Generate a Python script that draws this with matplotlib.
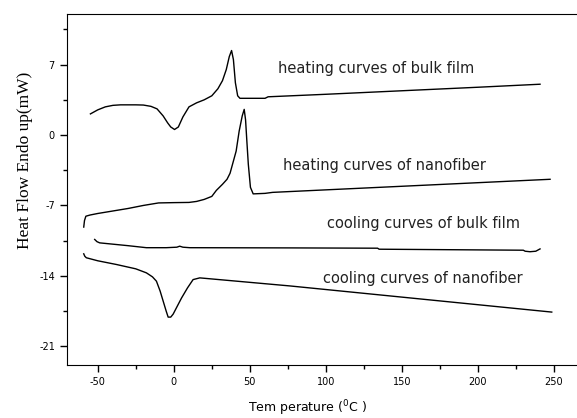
import matplotlib
matplotlib.use('Agg')
import matplotlib.pyplot as plt
from matplotlib.ticker import MultipleLocator

plt.rcParams['axes.unicode_minus'] = False

# heating curve, bulk film
hb_x = [-54.8, -50, -45, -40, -35, -30, -25, -20, -15, -11, -7, -4, -2, 0.5, 3, 6, 10, 15, 20, 25,
        29, 32, 34.5, 36.5, 38, 39.2, 40.5, 42, 43.5, 50, 60, 62, 100, 150, 200, 240.8]
hb_y = [2.1, 2.5, 2.8, 2.95, 3.0, 3.0, 3.0, 2.98, 2.85, 2.6, 1.9, 1.2, 0.8, 0.55, 0.8, 1.8, 2.8, 3.2, 3.5, 3.9,
        4.6, 5.4, 6.5, 7.8, 8.4, 7.5, 5.2, 3.9, 3.65, 3.65, 3.65, 3.8, 4.05, 4.4, 4.75, 5.05]

# heating curve, nanofiber
hn_x = [-59.2, -58.7, -57.8, -55, -50, -40, -30, -20, -10, 0, 10, 15, 20, 25, 28, 32, 35, 37, 39, 41,
        43, 45, 46.3, 47.2, 48, 49, 50.4, 52.2, 60, 65, 247.4]
hn_y = [-9.15, -8.5, -8.07, -7.95, -7.8, -7.55, -7.3, -7.0, -6.75, -6.72, -6.7, -6.6, -6.4, -6.1, -5.5, -4.9, -4.4, -3.8, -2.7, -1.6,
        0.4, 1.9, 2.55, 1.5, -0.5, -2.9, -5.2, -5.85, -5.8, -5.7, -4.4]

# cooling curve, bulk film
cb_x = [-52, -50.5, -48.7, -40, -30, -18, -5, 2, 3.9, 6, 10.5, 76.3, 134, 135, 229.8, 231, 234.2, 238, 240.8]
cb_y = [-10.38, -10.6, -10.72, -10.85, -11.0, -11.2, -11.2, -11.15, -11.05, -11.15, -11.2, -11.22, -11.25, -11.35,
        -11.45, -11.55, -11.6, -11.55, -11.32]

# cooling curve, nanofiber
cn_x = [-59.2, -58.5, -57.5, -50, -37.7, -25, -18, -14, -11.4, -9, -7, -5, -3.7, -2, -0.4, 2, 5.1, 9, 12.7, 17.1, 76.3, 248.5]
cn_y = [-11.81, -12.05, -12.2, -12.5, -12.87, -13.3, -13.7, -14.1, -14.53, -15.5, -16.5, -17.5, -18.1, -18.1, -17.8, -17.1,
        -16.2, -15.2, -14.37, -14.2, -15.0, -17.6]

labels = ["heating curves of bulk film", "heating curves of nanofiber",
          "cooling curves of bulk film", "cooling curves of nanofiber"]
label_x = [68.5, 71.8, 100.5, 98]
label_y = [6.66, -2.98, -8.78, -14.25]

fig = plt.figure(figsize=(5.77, 4.18), dpi=100)
ax = fig.add_axes([0.1156, 0.1268, 1.0 - 0.1156, 0.9665 - 0.1268])

for xs, ys in [(hb_x, hb_y), (hn_x, hn_y), (cb_x, cb_y), (cn_x, cn_y)]:
    ax.plot(xs, ys, color='black', lw=1.0)

for t, x, y in zip(labels, label_x, label_y):
    ax.text(x, y, t, fontsize=10.5, ha='left', va='center', color='#222222')

ax.set_xlim(-70.4, 265.1)
ax.set_ylim(-22.86, 12.03)
ax.xaxis.set_major_locator(MultipleLocator(50))
ax.xaxis.set_minor_locator(MultipleLocator(25))
ax.yaxis.set_major_locator(MultipleLocator(7))
ax.yaxis.set_minor_locator(MultipleLocator(3.5))
ax.tick_params(which='major', direction='out', length=5, width=1, labelsize=7)
ax.tick_params(which='minor', direction='out', length=3, width=1)
ax.spines['right'].set_visible(False)

ax.set_xlabel(r'Tem perature ($^{0}$C )', fontsize=9)
ax.set_ylabel('Heat Flow Endo up(mW)', fontfamily='Liberation Serif', fontsize=12.5)
ax.xaxis.set_label_coords(0.471, -0.095)
ax.yaxis.set_label_coords(-0.066, 0.584)

plt.savefig('out.png', dpi=100)
